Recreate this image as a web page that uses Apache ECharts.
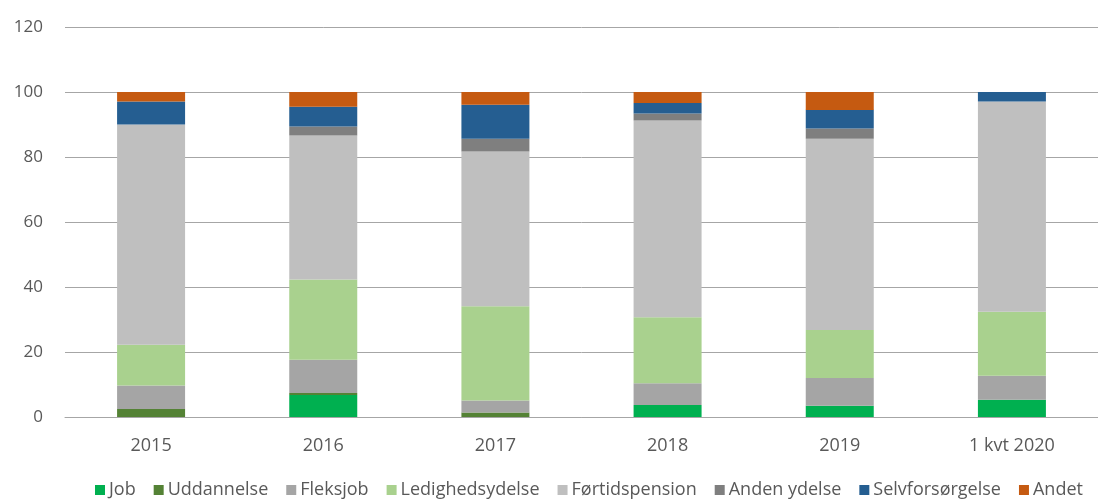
<!DOCTYPE html>
<html>
<head>
	<meta charset="utf-8">
	<title>Stacked bars</title>
	<script src="https://cdn.jsdelivr.net/npm/echarts@6/dist/echarts.min.js"></script>
	<style>
		html, body { margin: 0; padding: 0; background: #fff; }
	</style>
</head>
<body>
	<div id="main" style="width: 1098px;height: 502px;"></div>
<script>
	// kategorier og værdier
	var years = ['2015', '2016', '2017', '2018', '2019', '1 kvt 2020'];
	var yTicks = [0, 20, 40, 60, 80, 100, 120];

	var job = [0, 6.8, 0, 3.7, 3.5, 5.3];
	var uddannelse = [2.5, 0.6, 1.4, 0, 0, 0];
	var fleksjob = [7.2, 10.2, 3.7, 6.7, 8.5, 7.4];
	var ledighedsydelse = [12.5, 24.7, 29.0, 20.3, 14.8, 19.7];
	var fortidspension = [67.8, 44.3, 47.6, 60.5, 58.8, 64.7];
	var andenYdelse = [0, 2.8, 3.9, 2.2, 3.2, 0];
	var selvforsorgelse = [7.1, 6.1, 10.5, 3.2, 5.7, 2.9];
	var andet = [2.9, 4.5, 3.9, 3.4, 5.5, 0];

	var names = ['Job', 'Uddannelse', 'Fleksjob', 'Ledighedsydelse', 'Førtidspension', 'Anden ydelse', 'Selvforsørgelse', 'Andet'];
	var values = [job, uddannelse, fleksjob, ledighedsydelse, fortidspension, andenYdelse, selvforsorgelse, andet];
	var colors = ['#00b050', '#548235', '#a5a5a5', '#a9d18e', '#bfbfbf', '#7f7f7f', '#255e91', '#c55a11'];

	var series = names.map(function (n, i) {
		return {
			name: n,
			type: 'bar',
			stack: 'total',
			barWidth: 68,
			itemStyle: { color: colors[i] },
			data: values[i]
		};
	});

	var chart = echarts.init(document.getElementById('main'));
	chart.setOption({
		animation: false,
		textStyle: { fontFamily: 'Open Sans' },
		grid: { left: 65, right: 0, top: 27, bottom: 85 },
		legend: {
			bottom: 3,
			left: 95,
			width: 1003,
			padding: 0,
			itemWidth: 10,
			itemHeight: 10,
			itemGap: 18,
			icon: 'rect',
			textStyle: { fontSize: 18, color: '#595959', fontFamily: 'Open Sans', padding: [0, 0, 0, -1] },
			data: names
		},
		xAxis: {
			type: 'category',
			data: years,
			axisLine: { lineStyle: { color: '#a6a6a6' } },
			axisTick: { show: false },
			axisLabel: { color: '#595959', fontSize: 18, margin: 20 }
		},
		yAxis: {
			type: 'value',
			min: yTicks[0],
			max: yTicks[yTicks.length - 1],
			interval: 20,
			axisLine: { show: false },
			axisTick: { show: false },
			axisLabel: { color: '#595959', fontSize: 17, margin: 22 },
			splitLine: { lineStyle: { color: '#a6a6a6' } }
		},
		series: series
	});
</script>
</body>
</html>
